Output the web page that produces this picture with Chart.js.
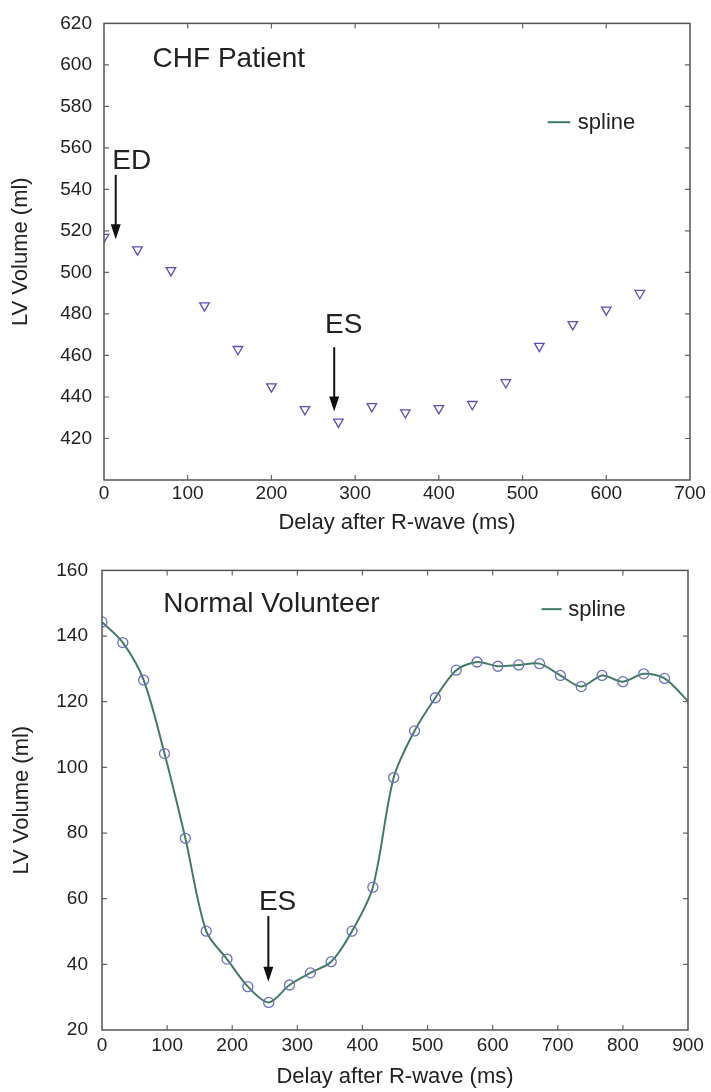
<!DOCTYPE html>
<html>
<head>
<meta charset="utf-8">
<script src="https://cdn.jsdelivr.net/npm/chart.js@4.4.1/dist/chart.umd.min.js"></script>
<style>
  body { margin: 0; background: #fff; }
  #wrap { position: relative; width: 711px; height: 1092px; }
  canvas { position: absolute; left: 0; }
</style>
</head>
<body>
<div id="wrap">
  <canvas id="chf" width="711" height="545" style="top:0"></canvas>
  <canvas id="normal" width="711" height="547" style="top:545px"></canvas>
</div>
<script>
// CHF patient: LV volume per delay after R-wave
const chfDelay = [0, 40, 80, 120, 160, 200, 240, 280, 320, 360, 400, 440, 480, 520, 560, 600, 640];
const chfVolume = [517, 511, 501, 484, 463, 445, 434, 428, 435.5, 432.5, 434.5, 436.5, 447, 464.5, 475, 482, 490];

// normal volunteer: sampled volumes plus spline through them
const normDelay = [0, 32, 64, 96, 128, 160, 192, 224, 256, 288, 320, 352, 384, 416,
  448, 480, 512, 544, 576, 608, 640, 672, 704, 736, 768, 800, 832, 864];
const normVolume = [144.3, 138, 126.6, 104.2, 78.4, 50.1, 41.6, 33.2, 28.4, 33.7, 37.4, 40.8, 50.1, 63.5,
  96.9, 111.1, 121.2, 129.6, 132.1, 130.8, 131.2, 131.6, 128, 124.6, 128, 126.1, 128.5, 127.1];
const splineEnd = { x: 900, y: 120.2 };

const chfXTicks = [0, 100, 200, 300, 400, 500, 600, 700];
const chfYTicks = [420, 440, 460, 480, 500, 520, 540, 560, 580, 600, 620];
const normXTicks = [0, 100, 200, 300, 400, 500, 600, 700, 800, 900];
const normYTicks = [20, 40, 60, 80, 100, 120, 140, 160];

const FONT = "'Liberation Sans', Arial, Helvetica, sans-serif";
const splineColor = '#3e7d62';
const txt = '#222';

function pairs(xs, ys) {
  return xs.map((x, i) => ({ x: x, y: ys[i] }));
}

// box around the plot with inward tick marks on every side
const frame = {
  id: 'frame',
  afterDatasetsDraw(chart) {
    const { ctx, chartArea: a, scales } = chart;
    ctx.save();
    ctx.strokeStyle = '#666';
    ctx.lineWidth = 1.2;
    const len = 5;
    scales.x.ticks.forEach(t => {
      const px = scales.x.getPixelForValue(t.value);
      if (px <= a.left + 1 || px >= a.right - 1) return;
      ctx.beginPath();
      ctx.moveTo(px, a.bottom); ctx.lineTo(px, a.bottom - len);
      ctx.moveTo(px, a.top); ctx.lineTo(px, a.top + len);
      ctx.stroke();
    });
    scales.y.ticks.forEach(t => {
      const py = scales.y.getPixelForValue(t.value);
      if (py <= a.top + 1 || py >= a.bottom - 1) return;
      ctx.beginPath();
      ctx.moveTo(a.left, py); ctx.lineTo(a.left + len, py);
      ctx.moveTo(a.right, py); ctx.lineTo(a.right - len, py);
      ctx.stroke();
    });
    ctx.strokeStyle = '#555';
    ctx.lineWidth = 1.5;
    ctx.strokeRect(a.left, a.top, a.right - a.left, a.bottom - a.top);
    ctx.restore();
  }
};

// text labels, arrows and the small legend, placed in data units
const notes = {
  id: 'notes',
  afterDraw(chart, args, opts) {
    const { ctx, scales: { x, y } } = chart;
    ctx.save();
    ctx.fillStyle = txt;
    ctx.font = '28px ' + FONT;
    ctx.textBaseline = 'alphabetic';
    (opts.labels || []).forEach(l => {
      ctx.fillText(l.text, x.getPixelForValue(l.x), y.getPixelForValue(l.y));
    });
    (opts.arrows || []).forEach(ar => {
      const px = x.getPixelForValue(ar.x);
      const top = y.getPixelForValue(ar.from);
      const tip = y.getPixelForValue(ar.to);
      ctx.strokeStyle = '#111';
      ctx.fillStyle = '#111';
      ctx.lineWidth = 2;
      ctx.beginPath();
      ctx.moveTo(px, top); ctx.lineTo(px, tip - 10);
      ctx.stroke();
      ctx.beginPath();
      ctx.moveTo(px - 5, tip - 15);
      ctx.lineTo(px + 5, tip - 15);
      ctx.lineTo(px, tip);
      ctx.closePath();
      ctx.fill();
    });
    const key = opts.key;
    if (key) {
      const ds = chart.data.datasets.find(d => d.label === key.label);
      const py = y.getPixelForValue(key.y);
      ctx.strokeStyle = ds.borderColor;
      ctx.lineWidth = 2;
      ctx.beginPath();
      ctx.moveTo(x.getPixelForValue(key.x0), py);
      ctx.lineTo(x.getPixelForValue(key.x1), py);
      ctx.stroke();
      ctx.fillStyle = txt;
      ctx.font = '22px ' + FONT;
      ctx.textBaseline = 'middle';
      ctx.fillText(key.label, x.getPixelForValue(key.tx), py + 1);
    }
    ctx.restore();
  }
};

function axes(cfg) {
  return {
    x: {
      type: 'linear', min: cfg.xTicks[0], max: cfg.xTicks[cfg.xTicks.length - 1],
      afterBuildTicks: s => { s.ticks = cfg.xTicks.map(v => ({ value: v })); },
      afterFit: s => { s.height = cfg.xh; },
      grid: { display: false, drawTicks: false },
      border: { display: false },
      ticks: { color: txt, font: { family: FONT, size: 19 }, padding: cfg.xpad, maxRotation: 0 },
      title: { display: true, text: 'Delay after R-wave (ms)', color: txt,
        font: { family: FONT, size: 22 }, padding: { top: 0, bottom: cfg.xtitle } }
    },
    y: {
      type: 'linear', min: cfg.yMin, max: cfg.yTicks[cfg.yTicks.length - 1],
      afterBuildTicks: s => { s.ticks = cfg.yTicks.map(v => ({ value: v })); },
      afterFit: s => { s.width = cfg.yw; },
      grid: { display: false, drawTicks: false },
      border: { display: false },
      ticks: { color: txt, font: { family: FONT, size: 19 }, padding: cfg.ypad },
      title: { display: true, text: 'LV Volume (ml)', color: txt,
        font: { family: FONT, size: 22 }, padding: { top: cfg.ytitle, bottom: 0 } }
    }
  };
}

new Chart(document.getElementById('chf'), {
  type: 'scatter',
  data: {
    datasets: [{
      label: 'volume',
      data: pairs(chfDelay, chfVolume),
      pointStyle: 'triangle',
      rotation: 180,
      pointRadius: 5.5,
      borderWidth: 1.3,
      borderColor: '#5a4fb8',
      backgroundColor: 'rgba(0,0,0,0)'
    }, {
      label: 'spline',
      data: [],
      showLine: true,
      borderColor: splineColor
    }]
  },
  options: {
    responsive: false,
    animation: false,
    layout: { padding: { top: 20, right: 21, left: 0, bottom: 0 } },
    scales: axes({ xTicks: chfXTicks, yTicks: chfYTicks, yMin: 400, xh: 65, yw: 104,
      xpad: 2, ypad: 12, xtitle: 9, ytitle: 8 }),
    plugins: {
      legend: { display: false },
      tooltip: { enabled: false },
      notes: {
        labels: [
          { text: 'CHF Patient', x: 58, y: 599 },
          { text: 'ED', x: 10, y: 550 },
          { text: 'ES', x: 264, y: 471 }
        ],
        arrows: [
          { x: 14, from: 547, to: 516 },
          { x: 275, from: 464, to: 433 }
        ],
        key: { label: 'spline', x0: 530, x1: 557, tx: 566, y: 572.4 }
      }
    }
  },
  plugins: [frame, notes]
});

new Chart(document.getElementById('normal'), {
  type: 'scatter',
  data: {
    datasets: [{
      label: 'samples',
      data: pairs(normDelay, normVolume),
      pointStyle: 'circle',
      pointRadius: 5,
      borderWidth: 1.3,
      borderColor: '#6a70c0',
      backgroundColor: 'rgba(0,0,0,0)'
    }, {
      label: 'spline',
      data: pairs(normDelay, normVolume).concat([splineEnd]),
      showLine: true,
      tension: 0.3,
      pointRadius: 0,
      borderWidth: 2,
      borderColor: splineColor
    }]
  },
  options: {
    responsive: false,
    animation: false,
    layout: { padding: { top: 24, right: 23, left: 0, bottom: 0 } },
    scales: axes({ xTicks: normXTicks, yTicks: normYTicks, yMin: 20, xh: 62, yw: 102,
      xpad: 4, ypad: 14, xtitle: 2, ytitle: 9 }),
    plugins: {
      legend: { display: false },
      tooltip: { enabled: false },
      notes: {
        labels: [
          { text: 'Normal Volunteer', x: 94, y: 147.2 },
          { text: 'ES', x: 241, y: 56.7 }
        ],
        arrows: [
          { x: 255.5, from: 54.7, to: 34.7 }
        ],
        key: { label: 'spline', x0: 675, x1: 706, tx: 716, y: 148.2 }
      }
    }
  },
  plugins: [frame, notes]
});
</script>
</body>
</html>
